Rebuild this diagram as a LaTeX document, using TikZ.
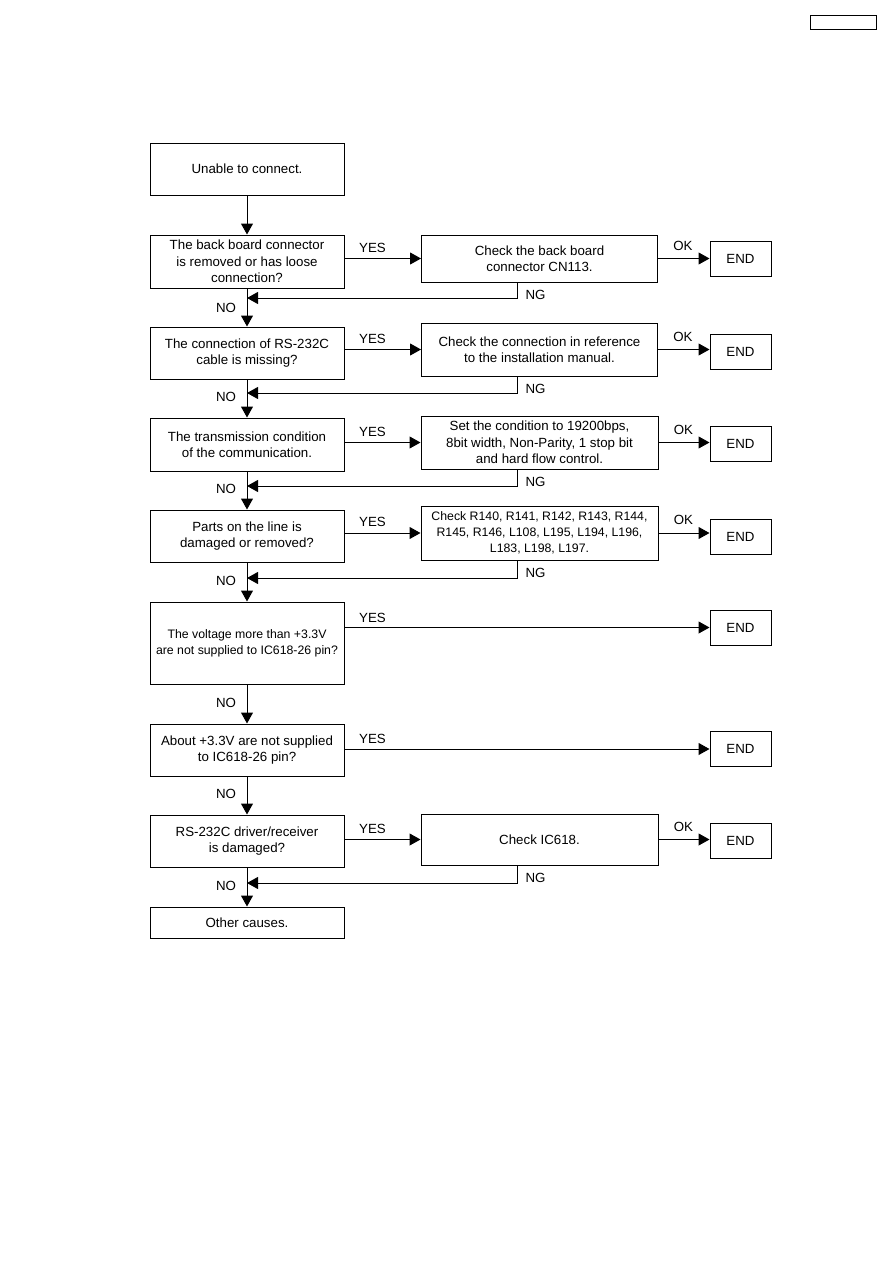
\documentclass[tikz,border=0pt]{standalone}
\usepackage{fontspec}
\setmainfont{Liberation Sans}
\usetikzlibrary{arrows.meta}
\begin{document}
\begin{tikzpicture}[x=1pt,y=-1pt,
  box/.style={draw,line width=1pt,inner sep=0pt,align=center,font=\fontsize{13.3}{16.5}\selectfont},
  smallbox/.style={box,font=\fontsize{12.3}{16}\selectfont},
  arr/.style={line width=1pt,-{Triangle[length=11pt,width=12pt]}},
  lbl/.style={inner sep=0pt,font=\fontsize{13.3}{16}\selectfont}]
\useasboundingbox (0,0) rectangle (893,1263);
% top-right empty box
\node[box,minimum width=66pt,minimum height=14pt] (tag) at (843,23) {};
% left column
\node[box,minimum width=194pt,minimum height=52pt] (s) at (247,169) {Unable to connect.};
\node[box,minimum width=194pt,minimum height=53pt] (q1) at (247,261.5) {The back board connector\\is removed or has loose\\connection?};
\node[box,minimum width=194pt,minimum height=52pt] (q2) at (247,353) {The connection of RS-232C\\cable is missing?};
\node[box,minimum width=194pt,minimum height=53pt] (q3) at (247,444.5) {The transmission condition\\of the communication.};
\node[box,minimum width=194pt,minimum height=52pt] (q4) at (247,536) {Parts on the line is\\damaged or removed?};
\node[smallbox,minimum width=194pt,minimum height=82pt] (q5) at (247,643) {The voltage more than +3.3V\\are not supplied to IC618-26 pin?};
\node[box,minimum width=194pt,minimum height=52pt] (q6) at (247,750) {About +3.3V are not supplied\\to IC618-26 pin?};
\node[box,minimum width=194pt,minimum height=52pt] (q7) at (247,841) {RS-232C driver/receiver\\is damaged?};
\node[box,minimum width=194pt,minimum height=31pt] (oc) at (247,922.5) {Other causes.};
% action boxes
\node[box,minimum width=236pt,minimum height=47pt] (a1) at (539.5,258.5) {Check the back board\\connector CN113.};
\node[box,minimum width=236pt,minimum height=53pt] (a2) at (539.5,349.5) {Check the connection in reference\\to the installation manual.};
\node[box,minimum width=237pt,minimum height=53pt] (a3) at (539.5,442.5) {Set the condition to 19200bps,\\8bit width, Non-Parity, 1 stop bit\\and hard flow control.};
\node[smallbox,minimum width=237pt,minimum height=54pt] (a4) at (539.5,533) {Check R140, R141, R142, R143, R144,\\R145, R146, L108, L195, L194, L196,\\L183, L198, L197.};
\node[box,minimum width=237pt,minimum height=51pt] (a7) at (539.5,839.5) {Check IC618.};
% END boxes
\foreach \n/\y in {1/258.5,2/351.5,3/443.5,4/536.5,5/627.5,6/749,7/841}{
  \node[box,minimum width=61pt,minimum height=35pt] (e\n) at (740.5,\y) {END};
}
% main vertical arrows
\draw[arr] (s.south) -- (q1.north);
\foreach \a/\b in {q1/q2,q2/q3,q3/q4,q4/q5,q5/q6,q6/q7,q7/oc}{
  \draw[arr] (\a.south) -- (\b.north);
}
% YES arrows
\foreach \n in {1,2,3,4,7}{
  \draw[arr] (q\n.east |- a\n.west) -- (a\n.west);
  \draw[arr] (a\n.east) -- (a\n.east -| e\n.west);
  \node[lbl] at ([xshift=28pt,yshift=11pt]q\n.east |- a\n.west) {YES};
  \node[lbl] at ([xshift=25pt,yshift=13pt]a\n.east) {OK};
  \node[lbl] at ([xshift=-4pt,yshift=-12pt]a\n.south) {NG};
}
\foreach \n in {5,6}{
  \draw[arr] (q\n.east |- e\n.west) -- (e\n.west);
  \node[lbl] at ([xshift=28pt,yshift=10pt]q\n.east |- e\n.west) {YES};
}
% NG return arrows
\coordinate (r1) at (247,298);
\coordinate (r2) at (247,393);
\coordinate (r3) at (247,486);
\coordinate (r4) at (247,578);
\coordinate (r7) at (247,883);
\foreach \n in {1,2,3,4,7}{
  \draw[arr] ([xshift=-22.5pt]a\n.south) |- (r\n);
}
% NO labels
\foreach \n/\y in {1/308,2/397,3/489,4/581,5/703,6/794,7/886}{
  \node[lbl] at (226,\y) {NO};
}
\end{tikzpicture}
\end{document}
